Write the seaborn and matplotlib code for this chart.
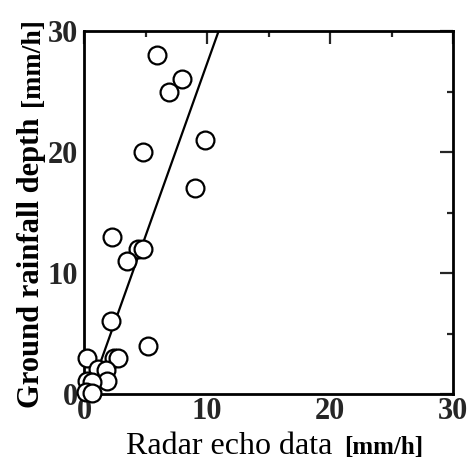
import matplotlib
matplotlib.use("Agg")
import matplotlib.pyplot as plt
import seaborn as sns
import numpy as np
import pandas as pd
from matplotlib.ticker import MultipleLocator

# Data
radar_echo = [5.9, 8.0, 6.9, 9.8, 4.8, 9.0, 2.25, 4.4, 4.8, 3.5, 2.2, 5.2,
              0.27, 2.45, 2.75, 1.1, 1.75, 1.9, 0.27, 0.67, 0.14, 0.67]
ground_rain = [28.0, 26.0, 25.0, 21.0, 20.0, 17.0, 13.0, 12.0, 12.0, 11.0, 6.0, 4.0,
               3.0, 3.0, 3.0, 2.1, 2.0, 1.1, 1.1, 1.0, 0.2, 0.05]
fit_slope = 2.85
fit_intercept = -1.2
fit_x_range = [0.42, 10.95]

x_ticks = [0, 10, 20, 30]
y_ticks = [0, 10, 20, 30]

sns.set_style("white")
plt.rcParams['font.family'] = ['Liberation Serif', 'DejaVu Serif']

fig = plt.figure(figsize=(4.74, 4.68), dpi=100)
ax = fig.add_axes([84/474, 1-394/468, (453-84)/474, (394-31)/468])

df = pd.DataFrame({"x": radar_echo, "y": ground_rain})
line_df = pd.DataFrame({"x": fit_x_range,
                        "y": [fit_slope * v + fit_intercept for v in fit_x_range]})

sns.lineplot(data=line_df, x="x", y="y", ax=ax, color="black", lw=1.6, zorder=3)
sns.scatterplot(data=df, x="x", y="y", ax=ax, s=165, facecolor="white",
                edgecolor="black", linewidth=1.6, zorder=5, clip_on=False)

ax.set_xlim(0, 30)
ax.set_ylim(0, 30)
ax.set_xticks(x_ticks)
ax.set_yticks(y_ticks)
ax.set_xticklabels([str(t) for t in x_ticks], fontweight="bold", fontsize=22)
ax.set_yticklabels([str(t) for t in y_ticks], fontweight="bold", fontsize=22)
ax.xaxis.set_minor_locator(MultipleLocator(5))
ax.yaxis.set_minor_locator(MultipleLocator(5))
ax.tick_params(which="major", direction="in", length=9.5, width=1.6,
               top=True, right=True)
ax.tick_params(axis="x", which="major", pad=2)
ax.tick_params(axis="y", which="major", pad=4)
ax.tick_params(which="minor", direction="in", length=4.5, width=1.6,
               top=True, right=True)
for sp in ax.spines.values():
    sp.set_linewidth(2.0)
    sp.set_color("black")
ax.set_xlabel("")
ax.set_ylabel("")

# Axis labels composed of two styles
fig.text(229/474, 1-454/468, "Radar echo data", ha="center", va="baseline",
         fontsize=23, color="black")
fig.text(384/474, 1-454/468, "[mm/h]", ha="center", va="baseline",
         fontsize=18, fontweight="bold", color="black")
fig.text(39/474, 1-263/468, "Ground rainfall depth", ha="center", va="baseline",
         fontsize=22, fontweight="bold", rotation=90, rotation_mode="anchor",
         color="black")
fig.text(39/474, 1-62/468, "[mm/h]", ha="center", va="baseline",
         fontsize=20, fontweight="bold", rotation=90, rotation_mode="anchor",
         color="black")

fig.savefig("out.png", dpi=100)
